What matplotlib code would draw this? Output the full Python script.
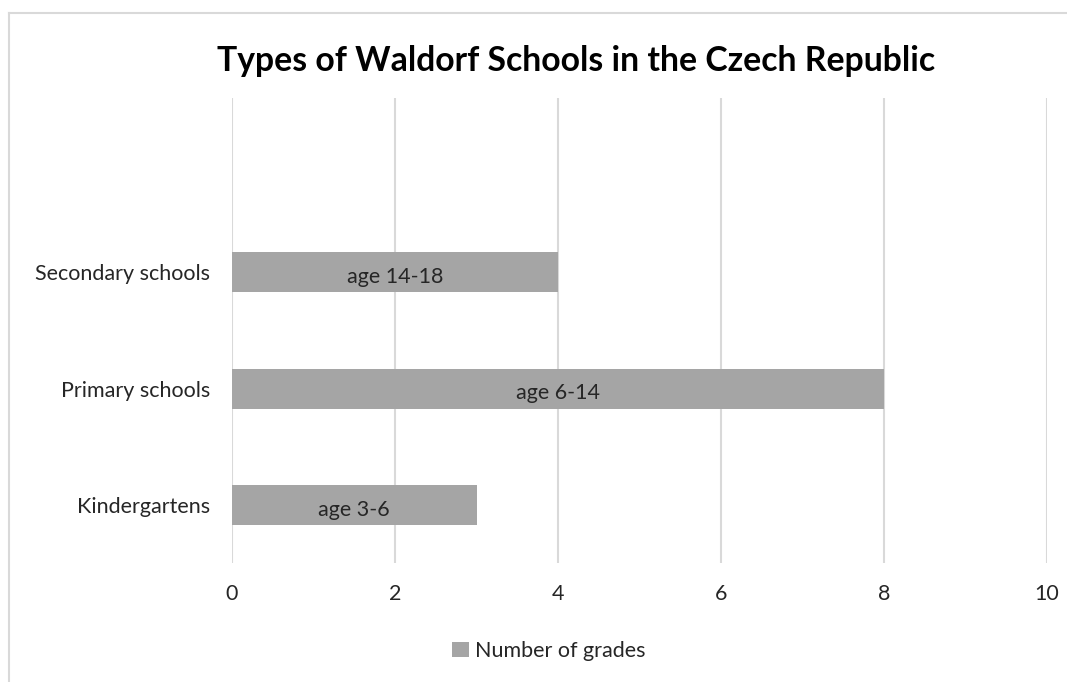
import matplotlib
matplotlib.use("Agg")
import matplotlib.pyplot as plt
from matplotlib.lines import Line2D
from matplotlib.patches import Patch

categories = ["Kindergartens", "Primary schools", "Secondary schools"]
grades = [3, 8, 4]
bar_labels = ["age 3-6", "age 6-14", "age 14-18"]
x_ticks = [0, 2, 4, 6, 8, 10]
title = "Types of Waldorf Schools in the Czech Republic"
legend_label = "Number of grades"

plt.rcParams['font.family'] = ['Lato', 'DejaVu Sans']

W, H = 1067, 682
fig = plt.figure(figsize=(W / 100, H / 100), dpi=100)

# outer chart frame (only top and left edges visible)
border = "#d9d9d9"
fig.add_artist(Line2D([9 / W, 1.0], [1 - 13 / H, 1 - 13 / H], transform=fig.transFigure, color=border, lw=1.5))
fig.add_artist(Line2D([9 / W, 9 / W], [1 - 13 / H, 0.0], transform=fig.transFigure, color=border, lw=1.5))

FS = 15.5
ax = fig.add_axes([232 / W, 1 - 563 / H, (1047 - 232) / W, (563 - 98) / H])
pos = list(range(len(categories)))
bars = ax.barh(pos, grades, height=0.345, color="#a5a5a5", zorder=3)
for b, lab in zip(bars, bar_labels):
    ax.annotate(lab, (b.get_width() / 2, b.get_y() + b.get_height() / 2),
                xytext=(0, -3.5), textcoords="offset points",
                ha="center", va="center", fontsize=FS, color="#262626", zorder=4)

ax.set_xlim(0, 10)
ax.set_ylim(-0.5, 3.5)
ax.set_xticks(x_ticks)
ax.set_xticklabels([str(t) for t in x_ticks], fontsize=FS, color="#262626")
ax.set_yticks(pos)
ax.set_yticklabels(categories, fontsize=FS, color="#262626")
ax.tick_params(axis="both", length=0)
ax.tick_params(axis="x", pad=15)
ax.tick_params(axis="y", pad=16)
ax.grid(axis="x", color="#d9d9d9", lw=1.5, zorder=0)
for s in ax.spines.values():
    s.set_visible(False)

fig.text(576 / W, 1 - 61 / H, title, ha="center", va="center", fontsize=24.3,
         fontweight="bold", color="black")

handle = Patch(facecolor="#a5a5a5", edgecolor="none")
fig.legend([handle], [legend_label], loc="center", bbox_to_anchor=(549 / W, 1 - 651 / H),
           frameon=False, fontsize=FS, handlelength=0.75, handleheight=0.75, handletextpad=0.3,
           labelcolor="#262626")

fig.savefig("out.png", dpi=100)
